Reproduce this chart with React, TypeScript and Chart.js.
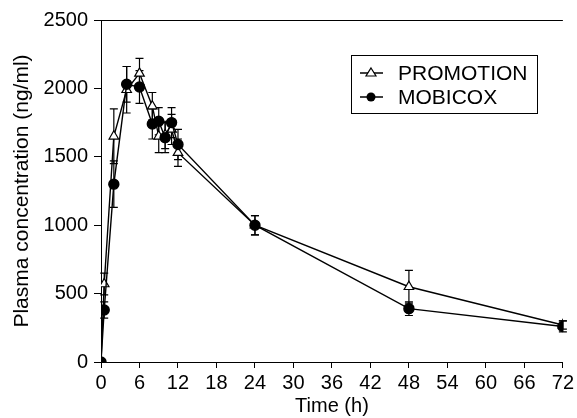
import React, { useEffect, useRef } from "react";
import { Chart, registerables } from "chart.js";

Chart.register(...registerables);

const times = [0, 0.5, 2, 4, 6, 8, 9, 10, 11, 12, 24, 48, 72];
const promotion = [0, 570, 1650, 1990, 2110, 1870, 1650, 1660, 1700, 1530, 1000, 550, 270];
const promotionSD = [0, 80, 200, 170, 110, 100, 120, 100, 110, 100, 70, 120, 30];
const mobicox = [0, 380, 1300, 2030, 2010, 1740, 1760, 1640, 1750, 1590, 1000, 390, 260];
const mobicoxSD = [0, 60, 170, 130, 120, 110, 100, 110, 110, 110, 70, 50, 40];
const xTicks = [0, 6, 12, 18, 24, 30, 36, 42, 48, 54, 60, 66, 72];
const yTicks = [0, 500, 1000, 1500, 2000, 2500];
const seriesNames = ["PROMOTION", "MOBICOX"];

const FONT = "'Liberation Sans', Arial, Helvetica, sans-serif";

const errorBarPlugin = {
  id: "errorBars",
  beforeDatasetsDraw(chart: any) {
    const ctx = chart.ctx;
    const ys = chart.scales.y;
    chart.data.datasets.forEach((ds: any, i: number) => {
      const meta = chart.getDatasetMeta(i);
      const sd: number[] = ds.sd;
      ctx.save();
      ctx.strokeStyle = "#000";
      ctx.lineWidth = 1.2;
      meta.data.forEach((pt: any, j: number) => {
        const v = ds.data[j].y;
        const e = sd[j];
        if (!e) return;
        const x = pt.x;
        const yTop = ys.getPixelForValue(v + e);
        const yBot = ys.getPixelForValue(v - e);
        ctx.beginPath();
        ctx.moveTo(x, yTop);
        ctx.lineTo(x, yBot);
        ctx.moveTo(x - 4, yTop);
        ctx.lineTo(x + 4, yTop);
        ctx.moveTo(x - 4, yBot);
        ctx.lineTo(x + 4, yBot);
        ctx.stroke();
      });
      ctx.restore();
    });
  },
};

const framePlugin = {
  id: "frameAndLegend",
  afterDraw(chart: any) {
    const ctx = chart.ctx;
    const a = chart.chartArea;
    ctx.save();
    ctx.strokeStyle = "#000";
    ctx.lineWidth = 1;
    ctx.beginPath();
    ctx.moveTo(a.left, a.top + 0.5);
    ctx.lineTo(a.right, a.top + 0.5);
    ctx.stroke();

    // legend box
    const bx = 351, by = 55, bw = 186, bh = 58;
    ctx.strokeRect(bx + 0.5, by + 0.5, bw, bh);
    const rows = [73, 97];
    ctx.font = `21px ${FONT}`;
    ctx.fillStyle = "#000";
    ctx.textBaseline = "middle";
    rows.forEach((ry, k) => {
      ctx.lineWidth = 1.5;
      ctx.beginPath();
      ctx.moveTo(360, ry);
      ctx.lineTo(383, ry);
      ctx.stroke();
      if (k === 0) {
        ctx.beginPath();
        ctx.moveTo(371, ry - 5);
        ctx.lineTo(376, ry + 3);
        ctx.lineTo(366, ry + 3);
        ctx.closePath();
        ctx.fillStyle = "#fff";
        ctx.fill();
        ctx.lineWidth = 1.2;
        ctx.stroke();
      } else {
        ctx.beginPath();
        ctx.arc(371, ry, 4.5, 0, Math.PI * 2);
        ctx.fillStyle = "#000";
        ctx.fill();
      }
      ctx.fillStyle = "#000";
      ctx.fillText(seriesNames[k], 398, ry + 1);
    });
    ctx.restore();
  },
};

export default function App() {
  const ref = useRef<HTMLCanvasElement | null>(null);
  useEffect(() => {
    if (!ref.current) return;
    const chart = new Chart(ref.current, {
      type: "line",
      data: {
        datasets: [
          {
            label: seriesNames[1],
            data: times.map((t, i) => ({ x: t, y: mobicox[i] })),
            sd: mobicoxSD,
            borderColor: "#000",
            borderWidth: 1.4,
            backgroundColor: "#000",
            pointStyle: "circle",
            pointRadius: 5,
            pointBorderColor: "#000",
            pointBackgroundColor: "#000",
            tension: 0,
          } as any,
          {
            label: seriesNames[0],
            data: times.map((t, i) => ({ x: t, y: promotion[i] })),
            sd: promotionSD,
            borderColor: "#000",
            borderWidth: 1.4,
            backgroundColor: "#fff",
            pointStyle: "triangle",
            pointRadius: 5.5,
            pointBorderWidth: 1.2,
            pointBorderColor: "#000",
            pointBackgroundColor: "#fff",
            tension: 0,
          } as any,
        ],
      },
      options: {
        responsive: false,
        animation: false,
        layout: { padding: { top: 20, right: 12, left: 0, bottom: 0 } },
        plugins: { legend: { display: false }, tooltip: { enabled: false } },
        scales: {
          x: {
            type: "linear",
            min: 0,
            max: 72,
            afterBuildTicks: (s: any) => {
              s.ticks = xTicks.map((v) => ({ value: v }));
            },
            afterFit: (s: any) => {
              s.height = 56;
            },
            border: { display: true, color: "#000", width: 1 },
            grid: { drawOnChartArea: false, drawTicks: true, tickLength: 6, color: "#000" },
            ticks: {
              color: "#000",
              padding: 3,
              maxRotation: 0,
              autoSkip: false,
              callback: (v: any) => String(v),
              font: { family: FONT, size: 20 },
            },
            title: {
              display: true,
              text: "Time (h)",
              color: "#000",
              padding: { top: 0, bottom: 0 },
              font: { family: FONT, size: 20 },
            },
          },
          y: {
            type: "linear",
            min: 0,
            max: 2500,
            afterBuildTicks: (s: any) => {
              s.ticks = yTicks.map((v) => ({ value: v }));
            },
            afterFit: (s: any) => {
              s.width = 101;
            },
            border: { display: true, color: "#000", width: 1 },
            grid: { drawOnChartArea: false, drawTicks: true, tickLength: 7, color: "#000" },
            ticks: {
              color: "#000",
              padding: 6,
              callback: (v: any) => String(v),
              font: { family: FONT, size: 20 },
            },
            title: {
              display: true,
              text: "Plasma concentration (ng/ml)",
              color: "#000",
              padding: { top: 10, bottom: 0 },
              font: { family: FONT, size: 21 },
            },
          },
        },
      },
      plugins: [errorBarPlugin, framePlugin],
    } as any);
    return () => chart.destroy();
  }, []);
  return (
    <div style={{ position: "fixed", left: 0, top: 0, width: 577, height: 418, background: "#fff" }}>
      <canvas ref={ref} width={577} height={418} style={{ width: 577, height: 418, display: "block" }} />
    </div>
  );
}
